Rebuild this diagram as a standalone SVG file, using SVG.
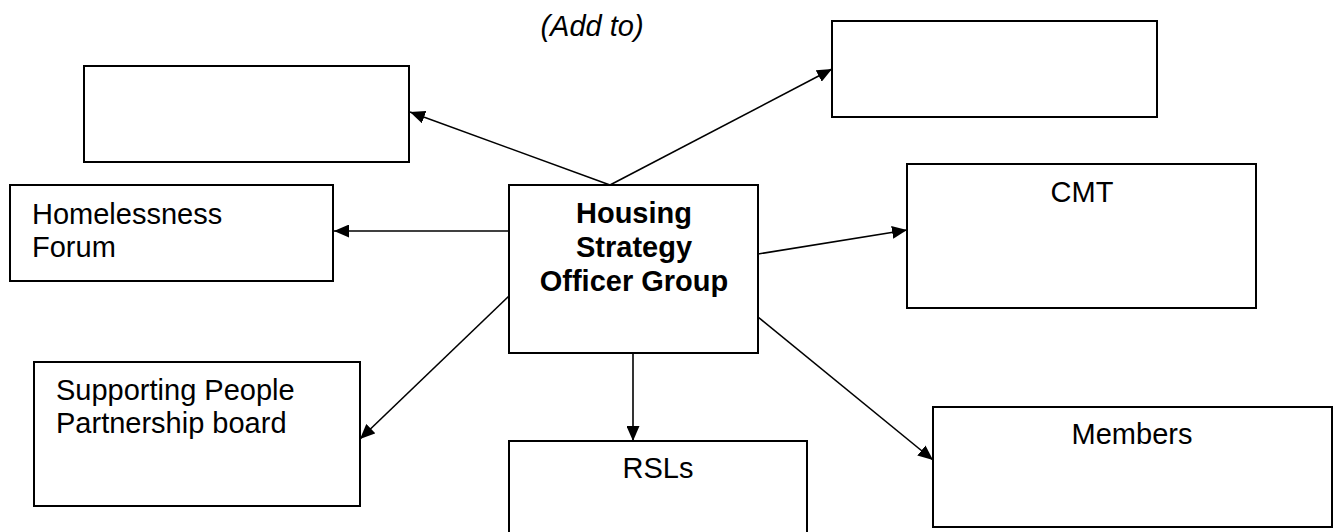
<svg xmlns="http://www.w3.org/2000/svg" width="1339" height="532" viewBox="0 0 1339 532">
<style>
.box{fill:#fff;stroke:#000;stroke-width:2}
.lbl{font-family:"Liberation Sans",Arial,sans-serif;font-size:29px;fill:#000}
.c{text-anchor:middle}
.b{font-weight:bold}
.conn{stroke:#000;stroke-width:1.6;fill:none;marker-end:url(#ah)}
</style>
<defs>
<marker id="ah" markerUnits="userSpaceOnUse" markerWidth="15" markerHeight="13" refX="15" refY="6.5" orient="auto">
<path d="M0,0 L15,6.5 L0,13 z" fill="#000"/>
</marker>
</defs>
<text class="lbl c" x="592" y="36" font-style="italic">(Add to)</text>
<g id="connectors">
<line class="conn" x1="610" y1="185" x2="410" y2="112"/>
<line class="conn" x1="610" y1="185" x2="832" y2="69"/>
<line class="conn" x1="509" y1="231" x2="334" y2="231"/>
<line class="conn" x1="758" y1="254" x2="907" y2="230"/>
<line class="conn" x1="509" y1="296" x2="360" y2="439"/>
<line class="conn" x1="633" y1="341" x2="633" y2="441"/>
<line class="conn" x1="758" y1="317" x2="933" y2="460"/>
</g>
<g id="node-blank-left"><rect class="box" x="84" y="66" width="325" height="96"/></g>
<g id="node-blank-right"><rect class="box" x="832" y="21" width="325" height="96"/></g>
<g id="node-homelessness">
<rect class="box" x="10" y="185" width="323" height="96"/>
<text class="lbl" x="32" y="224">Homelessness</text>
<text class="lbl" x="32" y="257">Forum</text>
</g>
<g id="node-central">
<rect class="box" x="509" y="185" width="249" height="168"/>
<text class="lbl c b" x="634" y="223">Housing</text>
<text class="lbl c b" x="634" y="257">Strategy</text>
<text class="lbl c b" x="634" y="291">Officer Group</text>
</g>
<g id="node-cmt">
<rect class="box" x="907" y="164" width="349" height="144"/>
<text class="lbl c" x="1082" y="202">CMT</text>
</g>
<g id="node-supporting">
<rect class="box" x="34" y="362" width="326" height="144"/>
<text class="lbl" x="56" y="400">Supporting People</text>
<text class="lbl" x="56" y="433">Partnership board</text>
</g>
<g id="node-rsls">
<rect class="box" x="509" y="441" width="298" height="100"/>
<text class="lbl c" x="658" y="478">RSLs</text>
</g>
<g id="node-members">
<rect class="box" x="933" y="407" width="399" height="120"/>
<text class="lbl c" x="1132" y="444">Members</text>
</g>
</svg>
